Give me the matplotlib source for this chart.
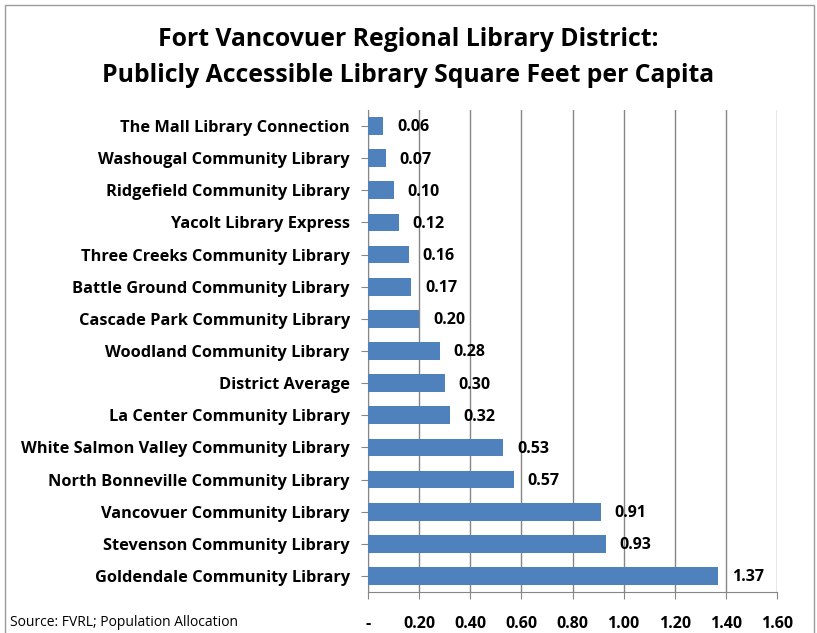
import matplotlib.pyplot as plt
from matplotlib.patches import Rectangle

# Library square feet per capita, listed top to bottom as in the chart
libraries = [
    "The Mall Library Connection",
    "Washougal Community Library",
    "Ridgefield Community Library",
    "Yacolt Library Express",
    "Three Creeks Community Library",
    "Battle Ground Community Library",
    "Cascade Park Community Library",
    "Woodland Community Library",
    "District Average",
    "La Center Community Library",
    "White Salmon Valley Community Library",
    "North Bonneville Community Library",
    "Vancovuer Community Library",
    "Stevenson Community Library",
    "Goldendale Community Library",
]
sq_ft = [0.06, 0.07, 0.10, 0.12, 0.16, 0.17, 0.20, 0.28, 0.30, 0.32,
         0.53, 0.57, 0.91, 0.93, 1.37]
x_ticks = [0, 0.2, 0.4, 0.6, 0.8, 1.0, 1.2, 1.4, 1.6]
x_ticklabels = ["-", "0.20", "0.40", "0.60", "0.80", "1.00", "1.20", "1.40", "1.60"]

plt.rcParams['font.family'] = ['Open Sans', 'DejaVu Sans']

fig = plt.figure(figsize=(8.17, 6.33), dpi=100)
ax = fig.add_axes([368 / 817, 1 - 592 / 633, 409 / 817, 482 / 633])

pos = list(range(len(libraries)))
ax.barh(pos, sq_ft, height=0.55, color="#4F81BD", zorder=3)
for p, v in zip(pos, sq_ft):
    ax.annotate("%.2f" % v, (v, p), xytext=(10, -1), textcoords="offset points",
                ha="left", va="center", fontsize=11.5, fontweight="bold", zorder=4)

ax.set_ylim(len(libraries) - 0.5, -0.5)
ax.set_xlim(0, 1.6)
ax.set_yticks(pos)
ax.set_yticklabels(libraries, fontsize=11.8, fontweight="bold")
ax.set_xticks(x_ticks)
ax.set_xticklabels(x_ticklabels, fontsize=11.5, fontweight="bold")
ax.xaxis.grid(True, color="#868686", linewidth=1, zorder=0)
for s in ["top", "right"]:
    ax.spines[s].set_visible(False)
for s in ["left", "bottom"]:
    ax.spines[s].set_color("#868686")
ax.tick_params(axis="y", length=5, color="#868686", pad=8)
ax.tick_params(axis="x", length=5, color="#868686", pad=12)

fig.text(0.5, 1 - 39 / 633, "Fort Vancovuer Regional Library District:", ha="center",
         va="center", fontsize=17.8, fontweight="bold")
fig.text(0.5, 1 - 76 / 633, "Publicly Accessible Library Square Feet per Capita",
         ha="center", va="center", fontsize=17.8, fontweight="bold")
fig.text(10 / 817, 1 - 622 / 633, "Source: FVRL; Population Allocation", fontsize=10,
         va="center")

fig.patches.append(Rectangle((5 / 817, -0.1), 809 / 817, 1.1 - 5 / 633,
                             transform=fig.transFigure, fill=False,
                             edgecolor="#9a9a9a", linewidth=1))

fig.savefig("out.png", dpi=100)
